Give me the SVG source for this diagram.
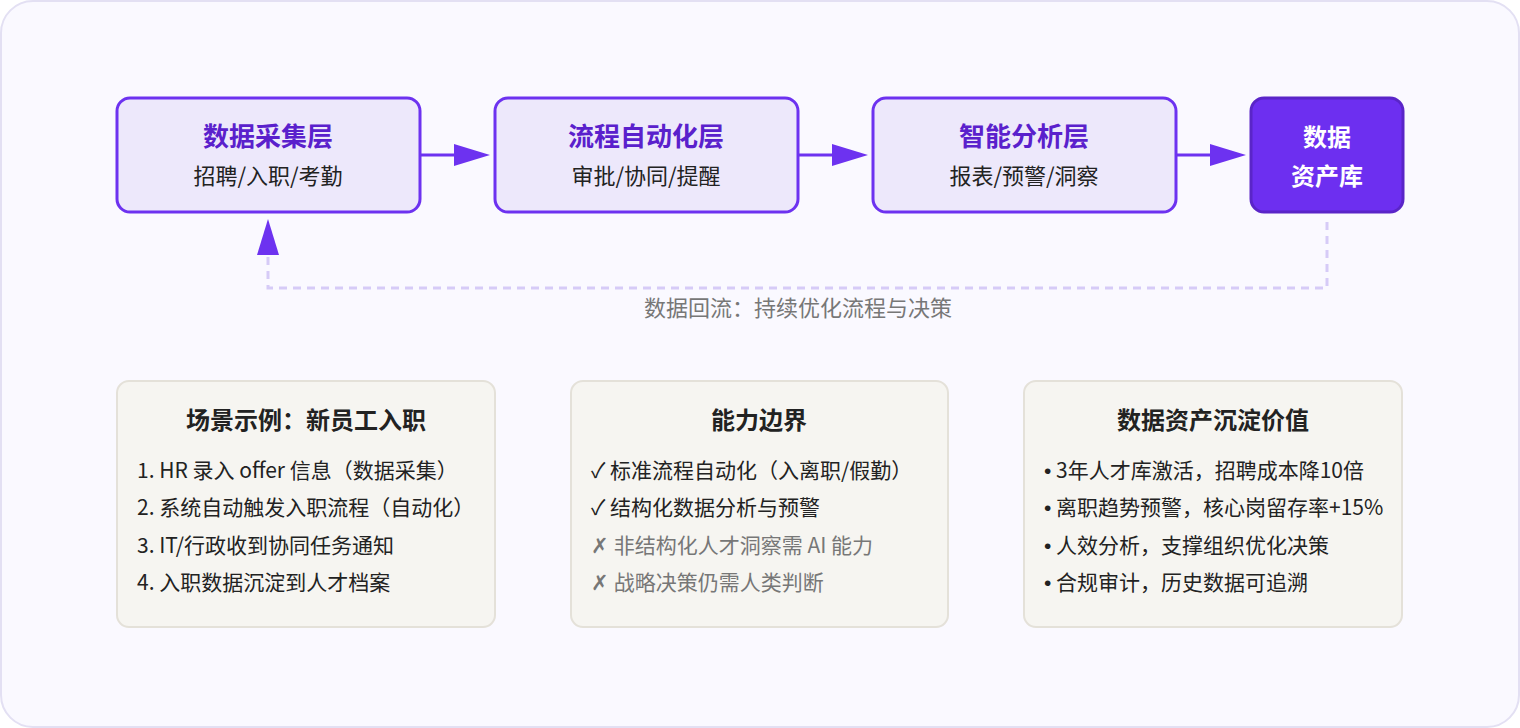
<svg xmlns="http://www.w3.org/2000/svg" width="1520" height="728" viewBox="0 0 1520 728">
<style>
.bg{fill:#faf9ff;stroke:#e3e0f3;stroke-width:2}
.layer{fill:#ede8fb;stroke:#6d32f0;stroke-width:3}
.store{fill:#6d2ff0;stroke:#5a25c8;stroke-width:3}
.card{fill:#f6f5f1;stroke:#e4e1d9;stroke-width:2}
.t{font-family:"Noto Sans CJK SC","Noto Sans",sans-serif;text-anchor:middle}
.lt{font-size:26px;font-weight:700;fill:#5a20cc}
.ls{font-size:22px;fill:#222}
.st{font-size:24px;font-weight:700;fill:#fff}
.ct{font-size:24px;font-weight:700;fill:#222}
.it{font-family:"Noto Sans CJK SC","Noto Sans",sans-serif;font-size:21px;fill:#222}
.mute{fill:#777}
.b{font-family:"Liberation Sans",sans-serif}
.conn{stroke:#6d32f0;stroke-width:3;fill:none}
.dash{stroke:#d6cbf7;stroke-width:3;fill:none;stroke-dasharray:8 6}
</style>
<rect class="bg" x="1" y="1" width="1518" height="726" rx="32"/>
<g id="connectors">
<line class="conn" x1="420" y1="155" x2="456" y2="155"/>
<path d="M454,144 L490,155 L454,166 z" fill="#6d32f0"/>
<line class="conn" x1="798" y1="155" x2="834" y2="155"/>
<path d="M832,144 L868,155 L832,166 z" fill="#6d32f0"/>
<line class="conn" x1="1176" y1="155" x2="1212" y2="155"/>
<path d="M1210,144 L1246,155 L1210,166 z" fill="#6d32f0"/>
<path class="dash" d="M1327,222 L1327,288 L268,288 L268,254"/>
<path d="M257,255 L268,219 L279,255 z" fill="#6d32f0"/>
<text class="t" x="798" y="316" font-size="22" fill="#777">数据回流：持续优化流程与决策</text>
</g>
<g id="node-collect">
<rect class="layer" x="117" y="98" width="303" height="114" rx="13"/>
<text class="t lt" x="268" y="146">数据采集层</text>
<text class="t ls" x="268" y="184">招聘/入职/考勤</text>
</g>
<g id="node-flow">
<rect class="layer" x="495" y="98" width="303" height="114" rx="13"/>
<text class="t lt" x="646" y="146">流程自动化层</text>
<text class="t ls" x="646" y="184">审批/协同/提醒</text>
</g>
<g id="node-analysis">
<rect class="layer" x="873" y="98" width="303" height="114" rx="13"/>
<text class="t lt" x="1024" y="146">智能分析层</text>
<text class="t ls" x="1024" y="184">报表/预警/洞察</text>
</g>
<g id="node-store">
<rect class="store" x="1251" y="98" width="152" height="114" rx="13"/>
<text class="t st" x="1327" y="146">数据</text>
<text class="t st" x="1327" y="185">资产库</text>
</g>
<g id="card-scenario">
<rect class="card" x="117" y="381" width="378" height="246" rx="12"/>
<text class="t ct" x="306" y="429">场景示例：新员工入职</text>
<text class="it" x="137" y="478">1. HR 录入 offer 信息（数据采集）</text>
<text class="it" x="137" y="515">2. 系统自动触发入职流程（自动化）</text>
<text class="it" x="137" y="553">3. IT/行政收到协同任务通知</text>
<text class="it" x="137" y="590">4. 入职数据沉淀到人才档案</text>
</g>
<g id="card-boundary">
<rect class="card" x="571" y="381" width="377" height="246" rx="12"/>
<text class="t ct" x="759" y="429">能力边界</text>
<text class="it" x="591" y="478">✓ 标准流程自动化（入离职/假勤）</text>
<text class="it" x="591" y="515">✓ 结构化数据分析与预警</text>
<text class="it mute" x="591" y="553">✗ 非结构化人才洞察需 AI 能力</text>
<text class="it mute" x="591" y="590">✗ 战略决策仍需人类判断</text>
</g>
<g id="card-value">
<rect class="card" x="1024" y="381" width="378" height="246" rx="12"/>
<text class="t ct" x="1213" y="429">数据资产沉淀价值</text>
<text class="it" x="1044" y="478"><tspan class="b">•</tspan> 3年人才库激活，招聘成本降10倍</text>
<text class="it" x="1044" y="515"><tspan class="b">•</tspan> 离职趋势预警，核心岗留存率+15%</text>
<text class="it" x="1044" y="553"><tspan class="b">•</tspan> 人效分析，支撑组织优化决策</text>
<text class="it" x="1044" y="590"><tspan class="b">•</tspan> 合规审计，历史数据可追溯</text>
</g>
</svg>
